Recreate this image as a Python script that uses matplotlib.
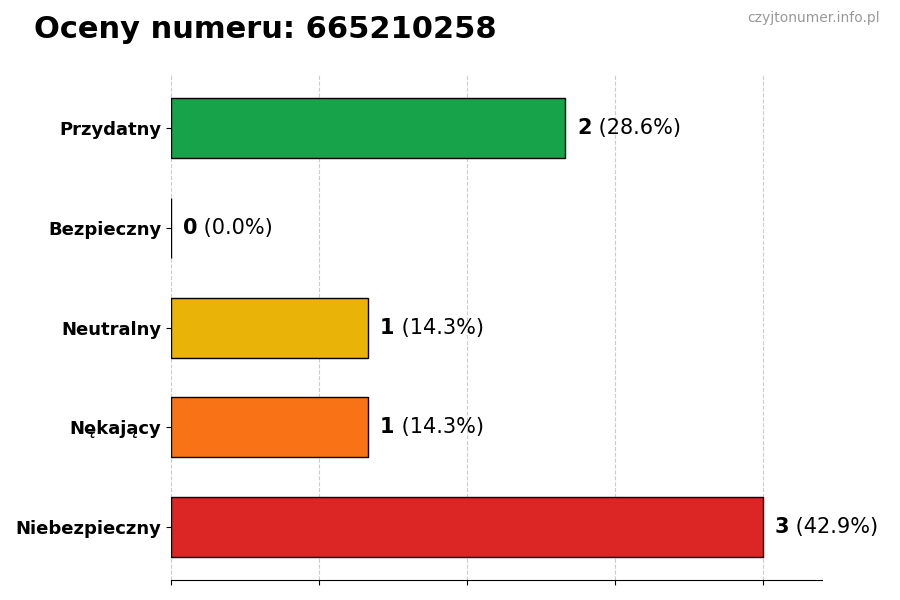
import matplotlib.pyplot as plt

categories = ["Niebezpieczny", "Nękający", "Neutralny", "Bezpieczny", "Przydatny"]
counts = [3, 1, 1, 0, 2]
percents = [42.9, 14.3, 14.3, 0.0, 28.6]
colors = ["#dc2626", "#f97316", "#eab308", "#22c55e", "#16a34a"]

fig = plt.figure(figsize=(9, 6), dpi=100)
ax = fig.add_axes([0.19, 0.033, 0.723, 0.842])

ypos = list(range(len(categories)))
ax.barh(ypos, counts, height=0.6, color=colors, edgecolor="black", linewidth=1)

for y, c, p in zip(ypos, counts, percents):
    x = c + 0.06
    t = ax.text(x, y, f"{c}", fontsize=15, fontweight="bold", va="center", ha="left")
    ax.annotate(f" ({p:.1f}%)", xycoords=t, xy=(1, 0.5), va="center", ha="left", fontsize=15)

ax.set_yticks(ypos)
ax.set_yticklabels(categories, fontsize=13, fontweight="bold")
ax.set_xlim(0, 3.3)
ax.set_ylim(-0.53, 4.53)
ax.set_xticks([0, 0.75, 1.5, 2.25, 3])
ax.set_xticklabels([])
ax.grid(axis="x", linestyle="--", color="#cccccc", linewidth=0.8)
ax.set_axisbelow(True)
for s in ["top", "right", "left"]:
    ax.spines[s].set_visible(False)

fig.text(0.038, 0.95, "Oceny numeru: 665210258", fontsize=22, fontweight="bold", va="center")
fig.text(0.978, 0.97, "czyjtonumer.info.pl", fontsize=10, color="#999999", ha="right", va="center")

fig.savefig("out.png", dpi=100)
